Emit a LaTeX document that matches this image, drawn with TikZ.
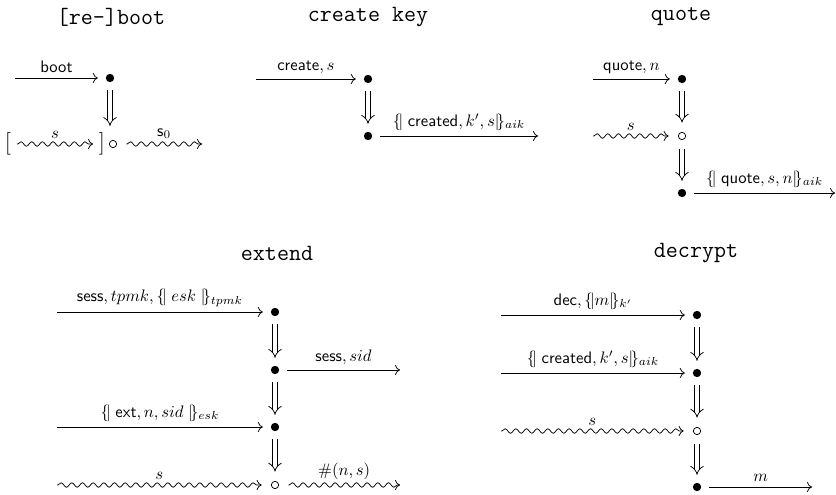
\documentclass[tikz,border=0pt]{standalone}
\usetikzlibrary{arrows.meta,decorations.pathmorphing}
\begin{document}
\begin{tikzpicture}[x=0.6pt,y=-0.6pt,
  title/.style={font=\fontsize{14}{16}\selectfont\ttfamily},
  dotn/.style={circle,fill=black,inner sep=0pt,minimum size=5pt,outer sep=4.8pt},
  ocirc/.style={circle,draw=black,line width=0.45pt,inner sep=0pt,minimum size=4.4pt,outer sep=5.8pt},
  brk/.style={inner sep=0.5pt,outer sep=3pt,font=\fontsize{13.5}{13.5}\selectfont},
  msg/.style={line width=0.45pt,-{To[length=3pt,width=6pt]}},
  wavy/.style={line width=0.45pt,-{To[length=3pt,width=6pt]},decorate,
    decoration={snake,amplitude=1.35pt,segment length=6.4pt,post length=1.5pt,pre length=0.5pt}},
  dbl/.style={double,line width=0.45pt,double distance=2.4pt,-{Implies[scale=1.3]}},
  lab/.style={above,inner sep=3pt,font=\normalsize}]
\useasboundingbox (0,0) rectangle (836,495);

% ---------- [re-]boot ----------
\node[title] (tb) at (111,17) {[re-]boot};
\node[dotn] (b1) at (110,78) {};
\coordinate (b0) at (15,78);
\draw[msg] (b0) -- node[lab] {\textsf{boot}} (b1);
\node[ocirc] (b2) at (113,144) {};
\node[brk] (bl) at (8,144) {[};
\node[brk] (br) at (102,144) {]};
\coordinate (b2t) at (110,126);
\draw[dbl] (b1) -- (b2t);
\draw[wavy] (bl) -- node[lab] {$s$} (br);
\coordinate (b3) at (202,144);
\draw[wavy] (b2) -- node[lab] {$\textsf{s}_0$} (b3);

% ---------- create key ----------
\node[title] (tc) at (368,17) {create key};
\node[dotn] (c1) at (368,79) {};
\coordinate (c0) at (256,79);
\draw[msg] (c0) -- node[lab] {$\textsf{create},s$} (c1);
\node[dotn] (c2) at (368,136) {};
\draw[dbl] (c1) -- (c2);
\coordinate (c3) at (538,136);
\draw[msg] (c2) -- node[lab] {$\{\!|\;\textsf{created},k',s|\!\}_{aik}$} (c3);

% ---------- quote ----------
\node[title] (tq) at (681,17) {quote};
\node[dotn] (q1) at (682,79) {};
\coordinate (q0) at (593,79);
\draw[msg] (q0) -- node[lab] {$\textsf{quote},n$} (q1);
\node[ocirc] (q2) at (682,136) {};
\coordinate (q2i) at (593,136);
\draw[wavy] (q2i) -- node[lab] {$s$} (q2);
\draw[dbl] (q1) -- (q2);
\node[dotn] (q3) at (682,193) {};
\draw[dbl] (q2) -- (q3);
\coordinate (q4) at (835,193);
\draw[msg] (q3) -- node[lab] {$\{\!|\;\textsf{quote},s,n|\!\}_{aik}$} (q4);

% ---------- extend ----------
\node[title] (te) at (277,253) {extend};
\node[dotn] (e1) at (275,312) {};
\coordinate (e0) at (57,312);
\draw[msg] (e0) -- node[lab] {$\textsf{sess},tpmk,\{\!|\;esk\;|\!\}_{tpmk}$} (e1);
\node[dotn] (e2) at (275,370) {};
\draw[dbl] (e1) -- (e2);
\coordinate (e2o) at (400,370);
\draw[msg] (e2) -- node[lab] {$\textsf{sess},sid$} (e2o);
\node[dotn] (e3) at (275,427) {};
\draw[dbl] (e2) -- (e3);
\coordinate (e3i) at (57,427);
\draw[msg] (e3i) -- node[lab] {$\{\!|\;\textsf{ext},n,sid\;|\!\}_{esk}$} (e3);
\node[ocirc] (e4) at (275,485) {};
\draw[dbl] (e3) -- (e4);
\coordinate (e4i) at (57,485);
\draw[wavy] (e4i) -- node[lab] {$s$} (e4);
\coordinate (e4o) at (400,485);
\draw[wavy] (e4) -- node[lab] {$\#(n,s)$} (e4o);

% ---------- decrypt ----------
\node[title] (td) at (696,253) {decrypt};
\node[dotn] (d1) at (697,315) {};
\coordinate (d0) at (501,315);
\draw[msg] (d0) -- node[lab] {$\textsf{dec},\{\!|m|\!\}_{k'}$} (d1);
\node[dotn] (d2) at (697,373) {};
\draw[dbl] (d1) -- (d2);
\coordinate (d2i) at (501,373);
\draw[msg] (d2i) -- node[lab] {$\{\!|\;\textsf{created},k',s|\!\}_{aik}$} (d2);
\node[ocirc] (d3) at (697,431) {};
\draw[dbl] (d2) -- (d3);
\coordinate (d3i) at (501,431);
\draw[wavy] (d3i) -- node[lab] {$s$} (d3);
\node[dotn] (d4) at (697,487) {};
\draw[dbl] (d3) -- (d4);
\coordinate (d4o) at (812,487);
\draw[msg] (d4) -- node[lab] {$m$} (d4o);
\end{tikzpicture}
\end{document}
